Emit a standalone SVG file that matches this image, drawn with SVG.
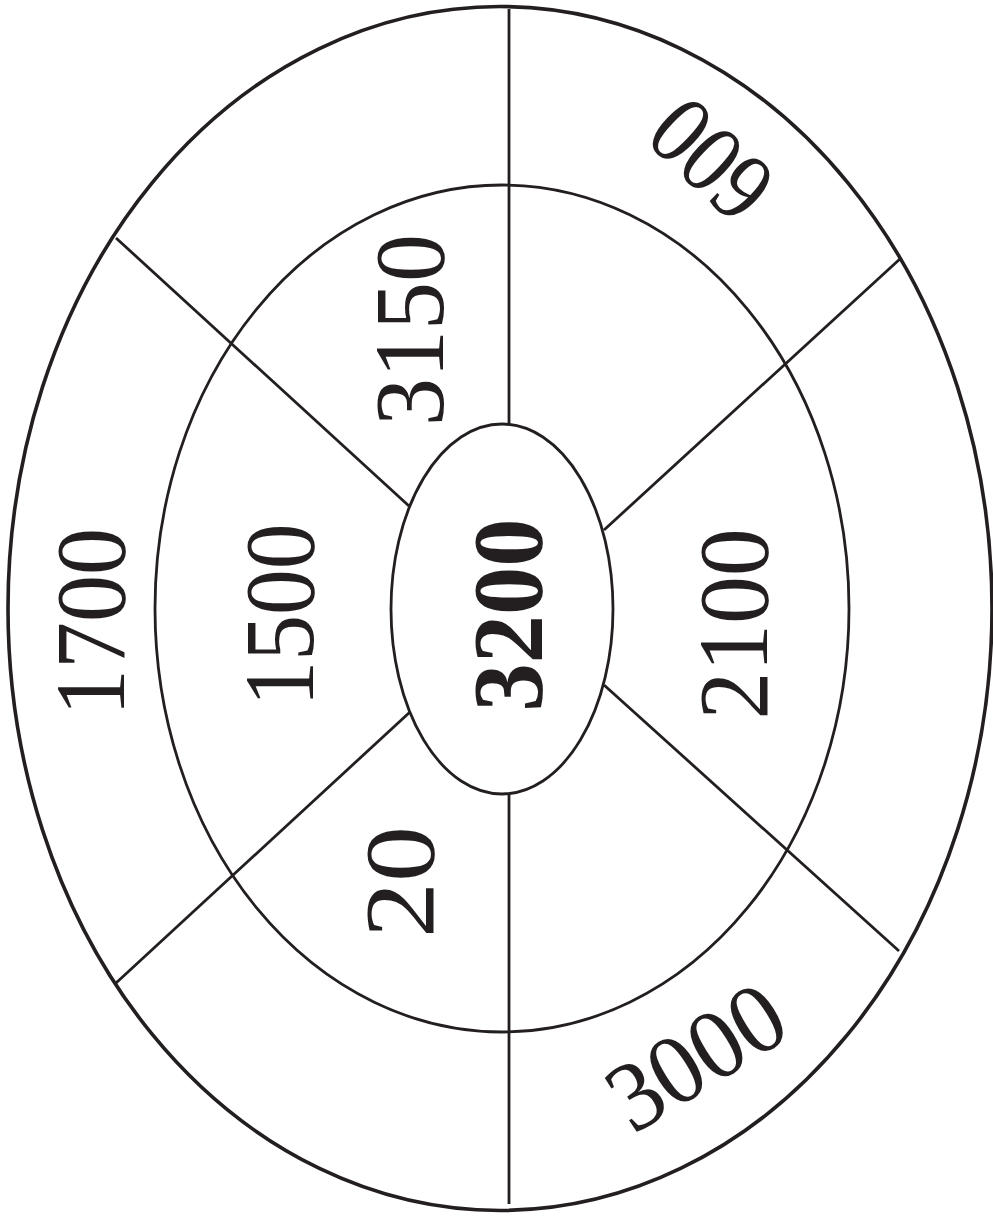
<svg xmlns="http://www.w3.org/2000/svg" width="993" height="1218" viewBox="0 0 993 1218">
<style>
.ring{fill:none;stroke:#231f20;stroke-width:2.8}
.outer{stroke-width:3.6}
.ln{stroke:#231f20;stroke-width:2.8;fill:none}
.t{font-family:"Liberation Serif","Times New Roman",serif;font-size:99px;fill:#231f20;text-anchor:middle}
.b{font-weight:bold}
</style>
<rect width="993" height="1218" fill="#fff"/>
<g id="rings">
<ellipse id="outer-ring" class="ring outer" cx="500" cy="608.5" rx="492" ry="602"/>
<ellipse id="middle-ring" class="ring" cx="502" cy="608.5" rx="347" ry="423.5"/>
</g>
<g id="connectors">
<line class="ln" x1="509" y1="9" x2="509" y2="424"/>
<line class="ln" x1="509" y1="794" x2="509" y2="1204"/>
<line class="ln" x1="116" y1="238" x2="409" y2="506"/>
<line class="ln" x1="901" y1="258" x2="604" y2="530"/>
<line class="ln" x1="116" y1="983" x2="410" y2="712"/>
<line class="ln" x1="899" y1="951" x2="604" y2="685"/>
</g>
<g id="center">
<ellipse class="ring" cx="502" cy="609" rx="111" ry="185" fill="#fff"/>
<text class="t b" transform="translate(508,615) rotate(-90)" x="0" y="33" textLength="193" lengthAdjust="spacingAndGlyphs">3200</text>
</g>
<g id="label-1700"><text class="t" transform="translate(91,622) rotate(-90)" x="0" y="33" textLength="188" lengthAdjust="spacingAndGlyphs">1700</text></g>
<g id="label-1500"><text class="t" transform="translate(280,615) rotate(-90)" x="0" y="33" textLength="183" lengthAdjust="spacingAndGlyphs">1500</text></g>
<g id="label-3150"><text class="t" transform="translate(410,330) rotate(-90)" x="0" y="33" textLength="192" lengthAdjust="spacingAndGlyphs">3150</text></g>
<g id="label-2100"><text class="t" transform="translate(734,624) rotate(-90)" x="0" y="33" textLength="191" lengthAdjust="spacingAndGlyphs">2100</text></g>
<g id="label-20"><text class="t" transform="translate(400,882) rotate(-90)" x="0" y="33" textLength="112" lengthAdjust="spacingAndGlyphs">20</text></g>
<g id="label-600"><text class="t" transform="translate(711,160) rotate(223.5)" x="0" y="33" textLength="128" lengthAdjust="spacingAndGlyphs">600</text></g>
<g id="label-3000"><text class="t" transform="translate(696,1057) rotate(-32)" x="0" y="33" textLength="190" lengthAdjust="spacingAndGlyphs">3000</text></g>
</svg>
